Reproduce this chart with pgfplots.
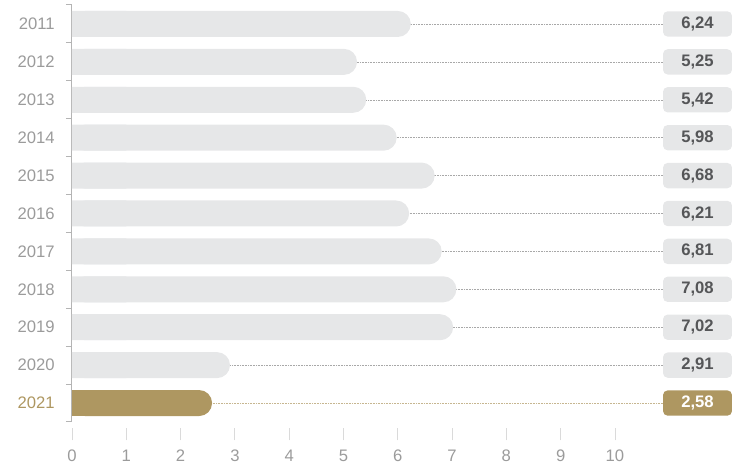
\documentclass[border=0pt]{standalone}
\usepackage{pgfplots}
\pgfplotsset{compat=1.18}
\usepackage{pgfplotstable}
\usepackage{fontspec}
\setmainfont{Liberation Sans}

\definecolor{bargray}{HTML}{E6E7E8}
\definecolor{gold}{HTML}{AE9761}
\definecolor{labgray}{HTML}{9B9B9B}
\definecolor{valgray}{HTML}{555658}
\definecolor{axgray}{HTML}{B4B4B4}
\definecolor{dotgray}{HTML}{A8A8A8}

% 1px = 0.75pt
\pgfplotstableread{
year value
2011 6.24
2012 5.25
2013 5.42
2014 5.98
2015 6.68
2016 6.21
2017 6.81
2018 7.08
2019 7.02
2020 2.91
}\past
\pgfplotstableread{
year value
2021 2.58
}\current

\newcommand{\xl}[1]{\shortstack{{\color{axgray!50}\rule{0.6pt}{9pt}}\\[4pt]#1}}

\begin{document}
\begin{tikzpicture}
\begin{axis}[
  scale only axis,
  width=495pt, height=312.75pt,
  xmin=0, xmax=12.155,
  ymin=2010.5, ymax=2021.5,
  y dir=reverse,
  clip=false,
  axis x line*=bottom,
  axis y line*=left,
  x axis line style={draw=none},
  y axis line style={axgray, line width=0.75pt, -},
  xtick={0,...,10},
  xticklabels={\xl{0},\xl{1},\xl{2},\xl{3},\xl{4},\xl{5},\xl{6},\xl{7},\xl{8},\xl{9},\xl{10}},
  xticklabel style={text=labgray, font=\fontsize{12.5}{14}\selectfont, inner sep=0pt, yshift=-4.5pt},
  ytick={2011,...,2021},
  yticklabels={2011,2012,2013,2014,2015,2016,2017,2018,2019,2020,\textcolor{gold}{2021}},
  yticklabel style={text=labgray, font=\fontsize{12.5}{14}\selectfont, inner sep=0pt, xshift=-12.75pt},
  major tick length=0pt,
  minor ytick={2010.5,2011.5,...,2021.5},
  minor tick length=4.5pt,
  tick align=outside,
  minor tick style={axgray, line width=0.75pt},
  /pgf/number format/assume math mode=true,
]
% dotted guide lines
\addplot[xcomb, draw=dotgray, line width=0.4pt, dash pattern=on 0.6pt off 0.6pt]
  table[x expr=10.9, y=year] {\past};
\addplot[xcomb, draw=gold!70, line width=0.4pt, dash pattern=on 0.6pt off 0.6pt]
  table[x expr=10.9, y=year] {\current};
% bars: rounded, then square left part
\addplot[xbar, bar shift=0pt, bar width=19.5pt, fill=bargray, draw=none, rounded corners=9.75pt]
  table[x=value, y=year] {\past};
\addplot[xbar, bar shift=0pt, bar width=19.5pt, fill=bargray, draw=none]
  table[x expr={min(\thisrow{value},1)}, y=year] {\past};
\addplot[xbar, bar shift=0pt, bar width=19.5pt, fill=gold, draw=none, rounded corners=9.75pt]
  table[x=value, y=year] {\current};
\addplot[xbar, bar shift=0pt, bar width=19.5pt, fill=gold, draw=none]
  table[x expr={min(\thisrow{value},1)}, y=year] {\current};
% value boxes
\addplot[only marks, mark=none, point meta=explicit,
  nodes near coords={\pgfmathprintnumber[fixed, fixed zerofill, precision=2, use comma]{\pgfplotspointmeta}},
  every node near coord/.append style={anchor=center, fill=bargray, rounded corners=3.5pt,
    text=valgray, font=\fontsize{12.5}{14}\selectfont\bfseries,
    minimum width=51.75pt, minimum height=19pt, inner sep=0pt}]
  table[x expr=11.52, y=year, meta=value] {\past};
\addplot[only marks, mark=none, point meta=explicit,
  nodes near coords={\pgfmathprintnumber[fixed, fixed zerofill, precision=2, use comma]{\pgfplotspointmeta}},
  every node near coord/.append style={anchor=center, fill=gold, rounded corners=3.5pt,
    text=white, font=\fontsize{12.5}{14}\selectfont\bfseries,
    minimum width=51.75pt, minimum height=19pt, inner sep=0pt}]
  table[x expr=11.52, y=year, meta=value] {\current};
\coordinate (bl) at (rel axis cs:0,0);
\coordinate (tr) at (rel axis cs:1,1);
\end{axis}
\path (bl) ++(-54pt,-30.75pt) coordinate (a);
\path (tr) ++(0pt,3.75pt) coordinate (b);
\end{tikzpicture}
\end{document}
